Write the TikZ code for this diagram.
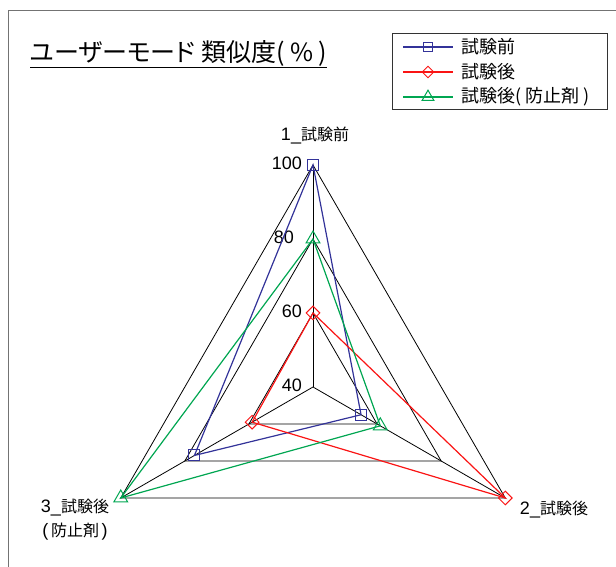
\documentclass[tikz,border=0pt]{standalone}
\usepackage{fontspec}
\setmainfont{Noto Sans CJK JP}
\newfontfamily\titlefont[RawFeature=+palt]{Noto Sans CJK JP}
\newfontfamily\lat{Liberation Sans}
\usepackage{xcolor}
\usepackage{tikz}
\usetikzlibrary{calc,shapes,positioning}

\definecolor{preBlue}{RGB}{51,51,153}
\definecolor{postRed}{RGB}{250,20,20}
\definecolor{inhGreen}{RGB}{0,166,81}

\newcommand{\latnum}[1]{{\lat\fontsize{18}{20}\selectfont #1}}

\begin{document}
\begin{tikzpicture}[x=1pt,y=1pt,font=\fontsize{16}{24}\selectfont]

\tikzset{gridline/.style={line width=0.8pt, color=black},
series/.style={line width=1.2pt},
sqmark/.style={draw=preBlue, rectangle, minimum size=11pt, inner sep=0pt, line width=1pt},
dmmark/.style={draw=postRed, diamond, minimum size=14pt, inner sep=0pt, line width=1pt},
trmark/.style={draw=inhGreen, regular polygon, regular polygon sides=3, minimum size=16pt, inner sep=0pt, line width=1pt}}

\useasboundingbox (0,0) rectangle (616,567);

%frame of the chart area
\draw[line width=1pt, color=black!55] (8,0) -- (8,556) -- (616,556);

\coordinate (O) at (313,180);

%grid triangles for 60, 80, 100
\foreach \v in {60,80,100}
  \draw[gridline] ($(O)+(90:{(\v-40)*3.7})$) -- ($(O)+(-30:{(\v-40)*3.7})$) -- ($(O)+(210:{(\v-40)*3.7})$) -- cycle;

\foreach \a/\n in {90/1, -30/2, 210/3}
  \draw[gridline] (O) -- ($(O)+(\a:222)$) coordinate (ax\n);

%tick labels
\foreach \v/\dx in {100/11, 80/19, 60/11, 40/11}
  \node[anchor=east, inner sep=0pt] (tick\v) at ($(O)+(90:{(\v-40)*3.7})+(-\dx,2)$) {\latnum{\v}};

%axis names
\node (lab1) at (315,431) {\latnum{1\_}試験前};
\node (lab2) at (554,57) {\latnum{2\_}試験後};
\node[align=center] (lab3) at (75,47) {\latnum{3\_}試験後\\\latnum{(}\,防止剤\,\latnum{)}};

%the three series
\foreach \s/\mk/\col/\p/\q/\r in {pre/sqmark/preBlue/100/55/77, post/dmmark/postRed/60/100/59, inh/trmark/inhGreen/80/61/100} {
  \coordinate (\s1) at ($(O)+(90:{(\p-40)*3.7})$);
  \coordinate (\s2) at ($(O)+(-30:{(\q-40)*3.7})$);
  \coordinate (\s3) at ($(O)+(210:{(\r-40)*3.7})$);
  \draw[series, color=\col] (\s1) -- (\s2) -- (\s3) -- cycle;
  \foreach \k in {1,2,3}
    \node[\mk] (\s mk\k) at (\s\k) {};
}

%title
\node[anchor=west, inner sep=0pt, font=\titlefont\fontsize{25}{28}\selectfont] (title) at (30,514) {ユーザーモード 類似度( \% )};
\coordinate (ul) at (0,499);
\draw[line width=1pt] (title.west |- ul) -- (title.east |- ul);

%legend
\draw[line width=0.8pt, color=black!80] (392,458) rectangle (607,534);
\foreach \s/\mk/\col/\y/\txt in {pre/sqmark/preBlue/520/試験前, post/dmmark/postRed/495/試験後, inh/trmark/inhGreen/470/試験後( 防止剤 )} {
  \coordinate (\s a) at (403,\y);
  \coordinate (\s b) at (453,\y);
  \draw[series, color=\col] (\s a) -- (\s b);
  \node[\mk, scale=0.85] (\s key) at (428,\y) {};
  \node[anchor=west, inner sep=0pt, font=\fontsize{18}{20}\selectfont] (\s txt) at (461,\y) {\txt};
}

\end{tikzpicture}
\end{document}
